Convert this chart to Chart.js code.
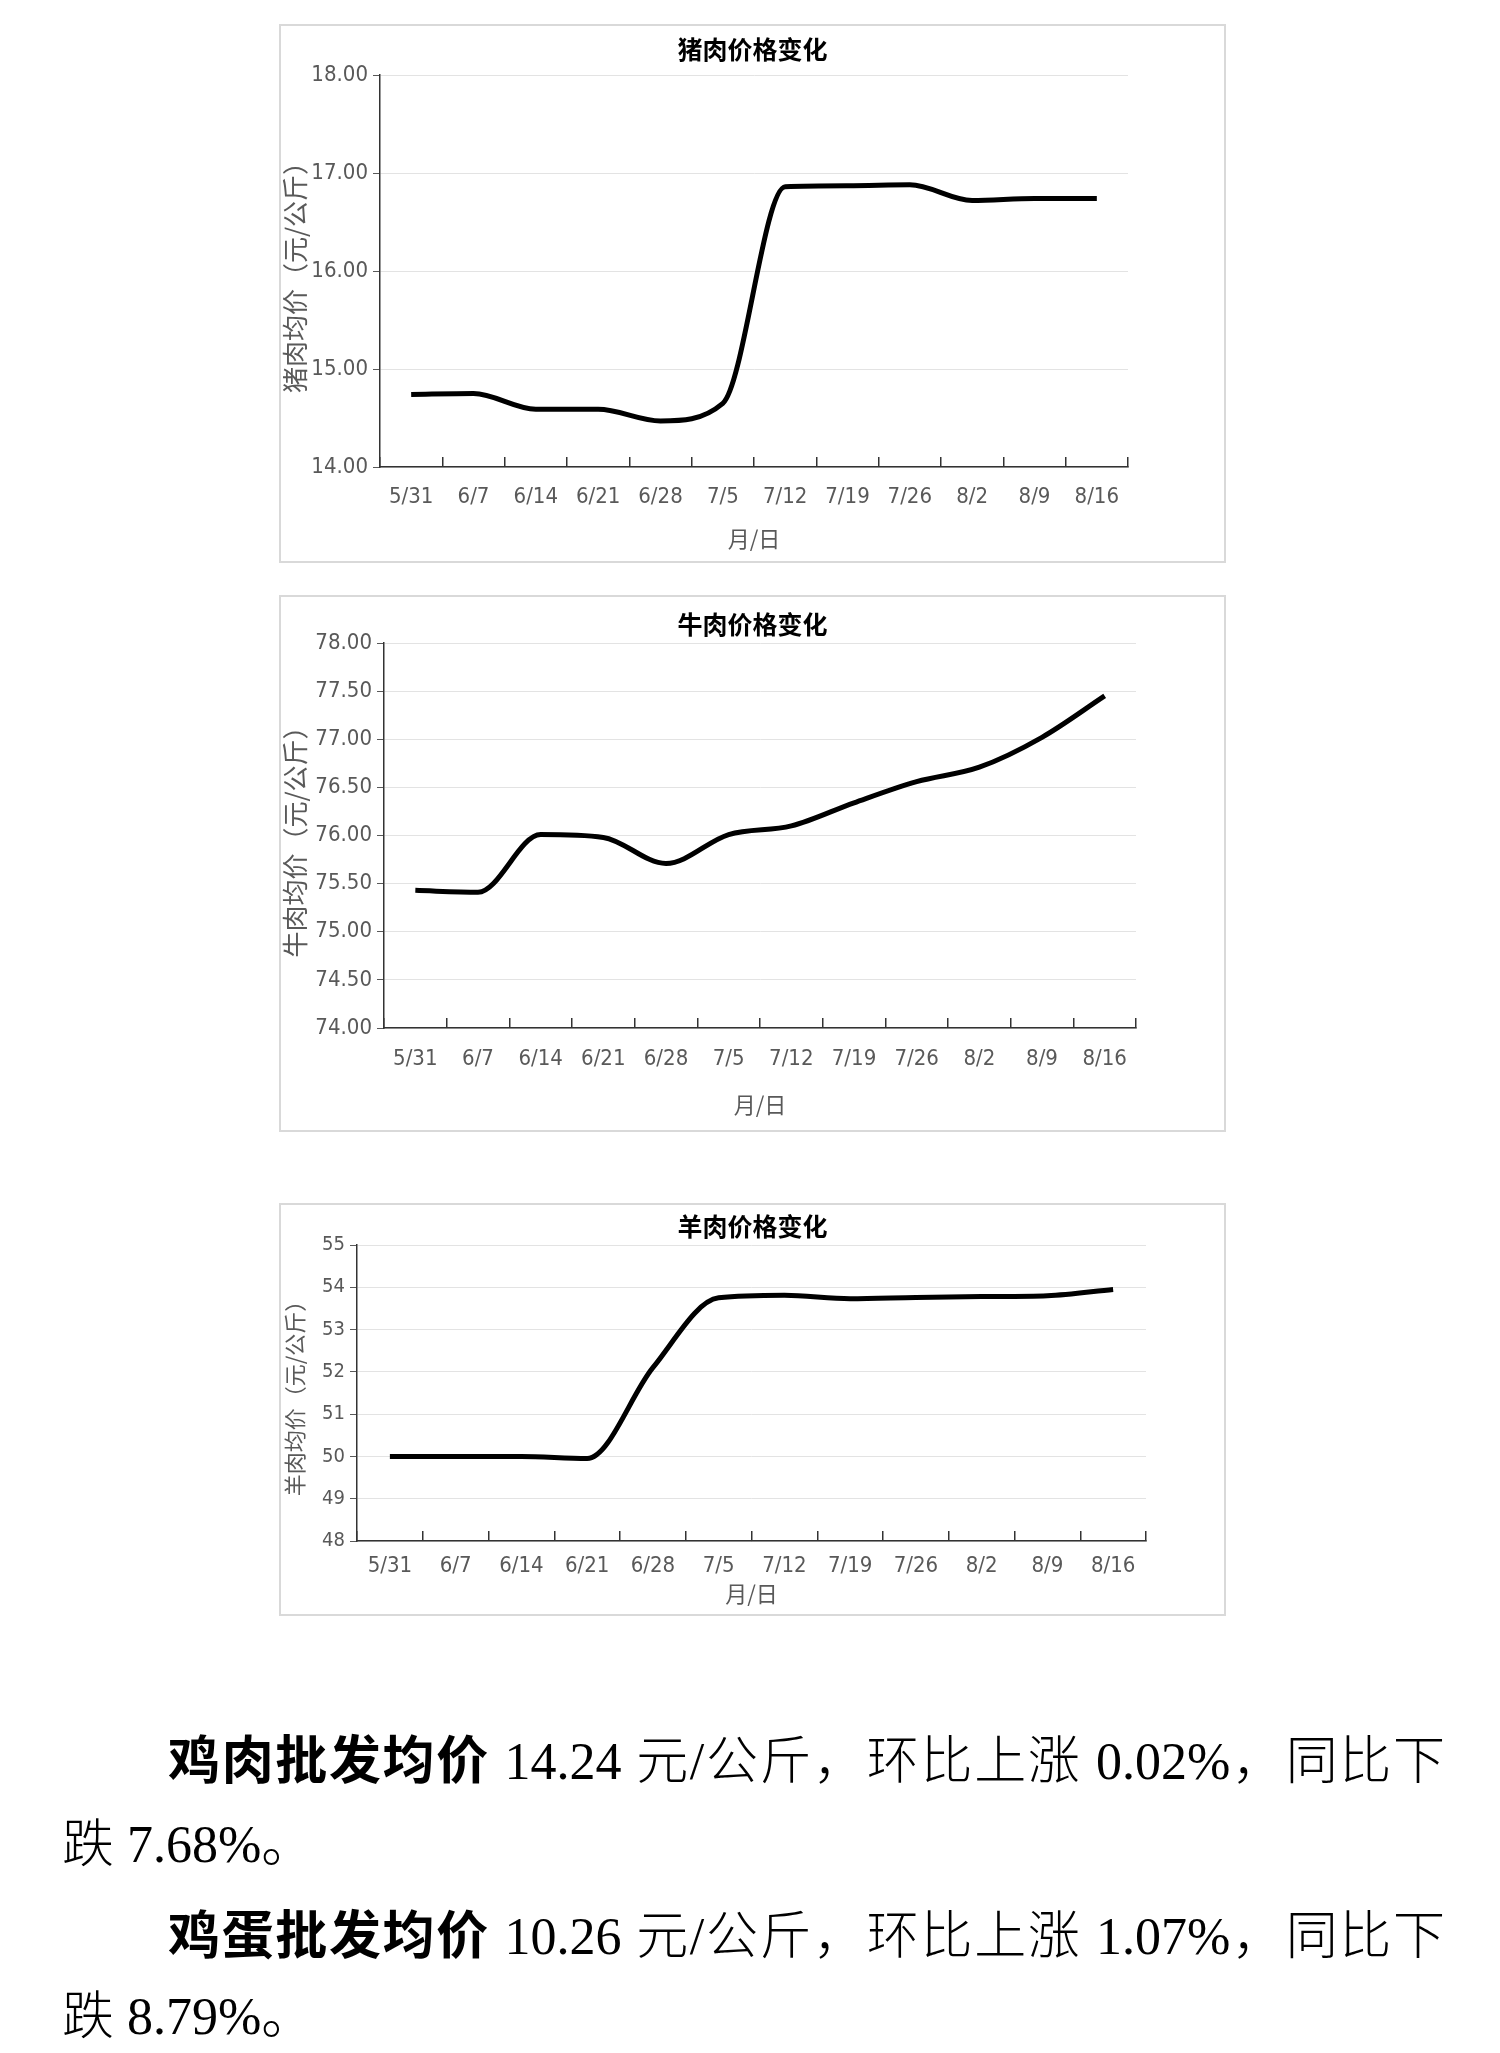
<!DOCTYPE html>
<html>
<head>
<meta charset="utf-8">
<script src="https://cdn.jsdelivr.net/npm/chart.js@4.4.1/dist/chart.umd.min.js"></script>
<style>
  html, body { margin: 0; padding: 0; background: #fff; }
  body { width: 1500px; height: 2053px; position: relative; overflow: hidden; }
  .frame { position: absolute; border: 2px solid #d9d9d9; box-sizing: border-box; }
  canvas { position: absolute; }
  .line { position: absolute; font-family: 'Liberation Serif', 'Noto Sans CJK SC', serif; font-weight: 300; font-size: 52px; line-height: 87px; height: 87px; white-space: nowrap; color: #000; }
  .line b { font-family: 'Noto Sans CJK SC', sans-serif; font-weight: bold; }
  .just { text-align: justify; text-align-last: justify; }
</style>
</head>
<body>
<div class="frame" style="left:279px;top:24px;width:947px;height:539px"></div>
<canvas id="pork" style="left:279px;top:24px"></canvas>
<div class="frame" style="left:279px;top:595px;width:947px;height:537px"></div>
<canvas id="beef" style="left:279px;top:595px"></canvas>
<div class="frame" style="left:279px;top:1203px;width:947px;height:413px"></div>
<canvas id="mutton" style="left:279px;top:1203px"></canvas>

<div class="line just" style="left:168px;top:1713px;width:1277px"><b>鸡肉批发均价</b> 14.24 元/公斤，环比上涨 0.02%，同比下</div>
<div class="line" style="left:62px;top:1801px">跌 7.68%。</div>
<div class="line just" style="left:168px;top:1888px;width:1277px"><b>鸡蛋批发均价</b> 10.26 元/公斤，环比上涨 1.07%，同比下</div>
<div class="line" style="left:62px;top:1973px">跌 8.79%。</div>

<script>
// weekly dates on the x axis
const dates = ['5/31', '6/7', '6/14', '6/21', '6/28', '7/5', '7/12', '7/19', '7/26', '8/2', '8/9', '8/16'];

// average prices, yuan per kg
const porkPrices = [14.74, 14.75, 14.59, 14.59, 14.47, 14.65, 16.86, 16.87, 16.88, 16.72, 16.74, 16.74];
const beefPrices = [75.43, 75.41, 76.01, 75.98, 75.71, 76.01, 76.10, 76.34, 76.56, 76.71, 77.02, 77.45];
const muttonPrices = [50.00, 50.00, 50.00, 49.95, 52.10, 53.75, 53.81, 53.73, 53.76, 53.78, 53.80, 53.95];

const narrow = "'Liberation Sans Narrow', 'DejaVu Sans Condensed', 'Noto Sans CJK SC', sans-serif";
const cjk = "'Noto Sans CJK SC', sans-serif";
const grey = '#595959';

function drawPriceChart(id, opt) {
  const canvas = document.getElementById(id);
  canvas.width = opt.w;
  canvas.height = opt.h;
  canvas.style.width = opt.w + 'px';
  canvas.style.height = opt.h + 'px';

  new Chart(canvas, {
    type: 'line',
    data: {
      labels: dates,
      datasets: [{
        data: opt.values,
        borderColor: '#000',
        borderWidth: 5,
        pointRadius: 0,
        fill: false,
        cubicInterpolationMode: 'monotone',
      }],
    },
    options: {
      responsive: false,
      animation: false,
      devicePixelRatio: 1,
      plugins: {
        legend: { display: false },
        tooltip: { enabled: false },
        title: {
          display: true,
          text: opt.title,
          color: '#000',
          font: { family: cjk, size: 25, weight: 'bold', lineHeight: 1.2 },
          padding: { top: opt.titleTop, bottom: opt.titleBottom },
        },
      },
      scales: {
        x: {
          type: 'category',
          offset: true,
          grid: {
            display: true,
            offset: true,
            drawOnChartArea: false,
            drawTicks: true,
            tickLength: -10,
            color: '#333',
            lineWidth: 1.5,
          },
          border: { display: true, color: '#333', width: 1.5 },
          ticks: {
            color: grey,
            font: { family: narrow, size: opt.xFont, lineHeight: 1.2 },
            padding: opt.xTickPad,
            maxRotation: 0,
            autoSkip: false,
          },
          title: {
            display: true,
            text: '月/日',
            color: grey,
            font: { family: cjk, size: 22, lineHeight: 1.2 },
            padding: { top: 0, bottom: opt.xTitleBottom },
          },
          afterFit: s => { s.height = opt.xHeight; },
        },
        y: {
          min: opt.min,
          max: opt.max,
          grid: {
            color: '#e3e3e3',
            lineWidth: 1,
            drawTicks: true,
            tickLength: 7,
            tickColor: grey,
          },
          border: { display: true, color: '#333', width: 1.5 },
          ticks: {
            stepSize: opt.step,
            color: grey,
            padding: 5,
            font: { family: narrow, size: opt.yFont },
            callback: v => v.toFixed(opt.decimals),
          },
          title: {
            display: true,
            text: opt.yTitle,
            color: grey,
            font: { family: cjk, size: opt.yTitleSize, lineHeight: 1.2 },
            padding: { top: Math.max(0, 16 - opt.yTitleSize * 0.6), bottom: 0 },
          },
          afterFit: s => { s.width = opt.yWidth; },
        },
        // empty right-hand box so the title stays centred on the whole frame
        pad: {
          position: 'right',
          display: true,
          grid: { display: false },
          border: { display: false },
          ticks: { display: false },
          afterFit: s => { s.width = opt.padRight; },
        },
      },
    },
  });
}

drawPriceChart('pork', {
  w: 947, h: 539, values: porkPrices, title: '猪肉价格变化', yTitle: '猪肉均价（元/公斤）',
  min: 14, max: 18, step: 1, decimals: 2,
  padRight: 98, yWidth: 101, xHeight: 96,
  titleTop: 10.0, titleBottom: 11.0,
  xFont: 22, yFont: 22, yTitleSize: 26,
  xTickPad: 26.8, xTitleBottom: 10.8,
});

drawPriceChart('beef', {
  w: 947, h: 537, values: beefPrices, title: '牛肉价格变化', yTitle: '牛肉均价（元/公斤）',
  min: 74, max: 78, step: 0.5, decimals: 2,
  padRight: 90, yWidth: 105, xHeight: 104,
  titleTop: 14.0, titleBottom: 4.0,
  xFont: 22, yFont: 22, yTitleSize: 26,
  xTickPad: 27.8, xTitleBottom: 13.8,
});

drawPriceChart('mutton', {
  w: 947, h: 413, values: muttonPrices, title: '羊肉价格变化', yTitle: '羊肉均价（元/公斤）',
  min: 48, max: 55, step: 1, decimals: 0,
  padRight: 80, yWidth: 78, xHeight: 75,
  titleTop: 8.0, titleBottom: 4.0,
  xFont: 22, yFont: 20, yTitleSize: 22,
  xTickPad: 21.8, xTitleBottom: 8.8,
});
</script>
</body>
</html>
